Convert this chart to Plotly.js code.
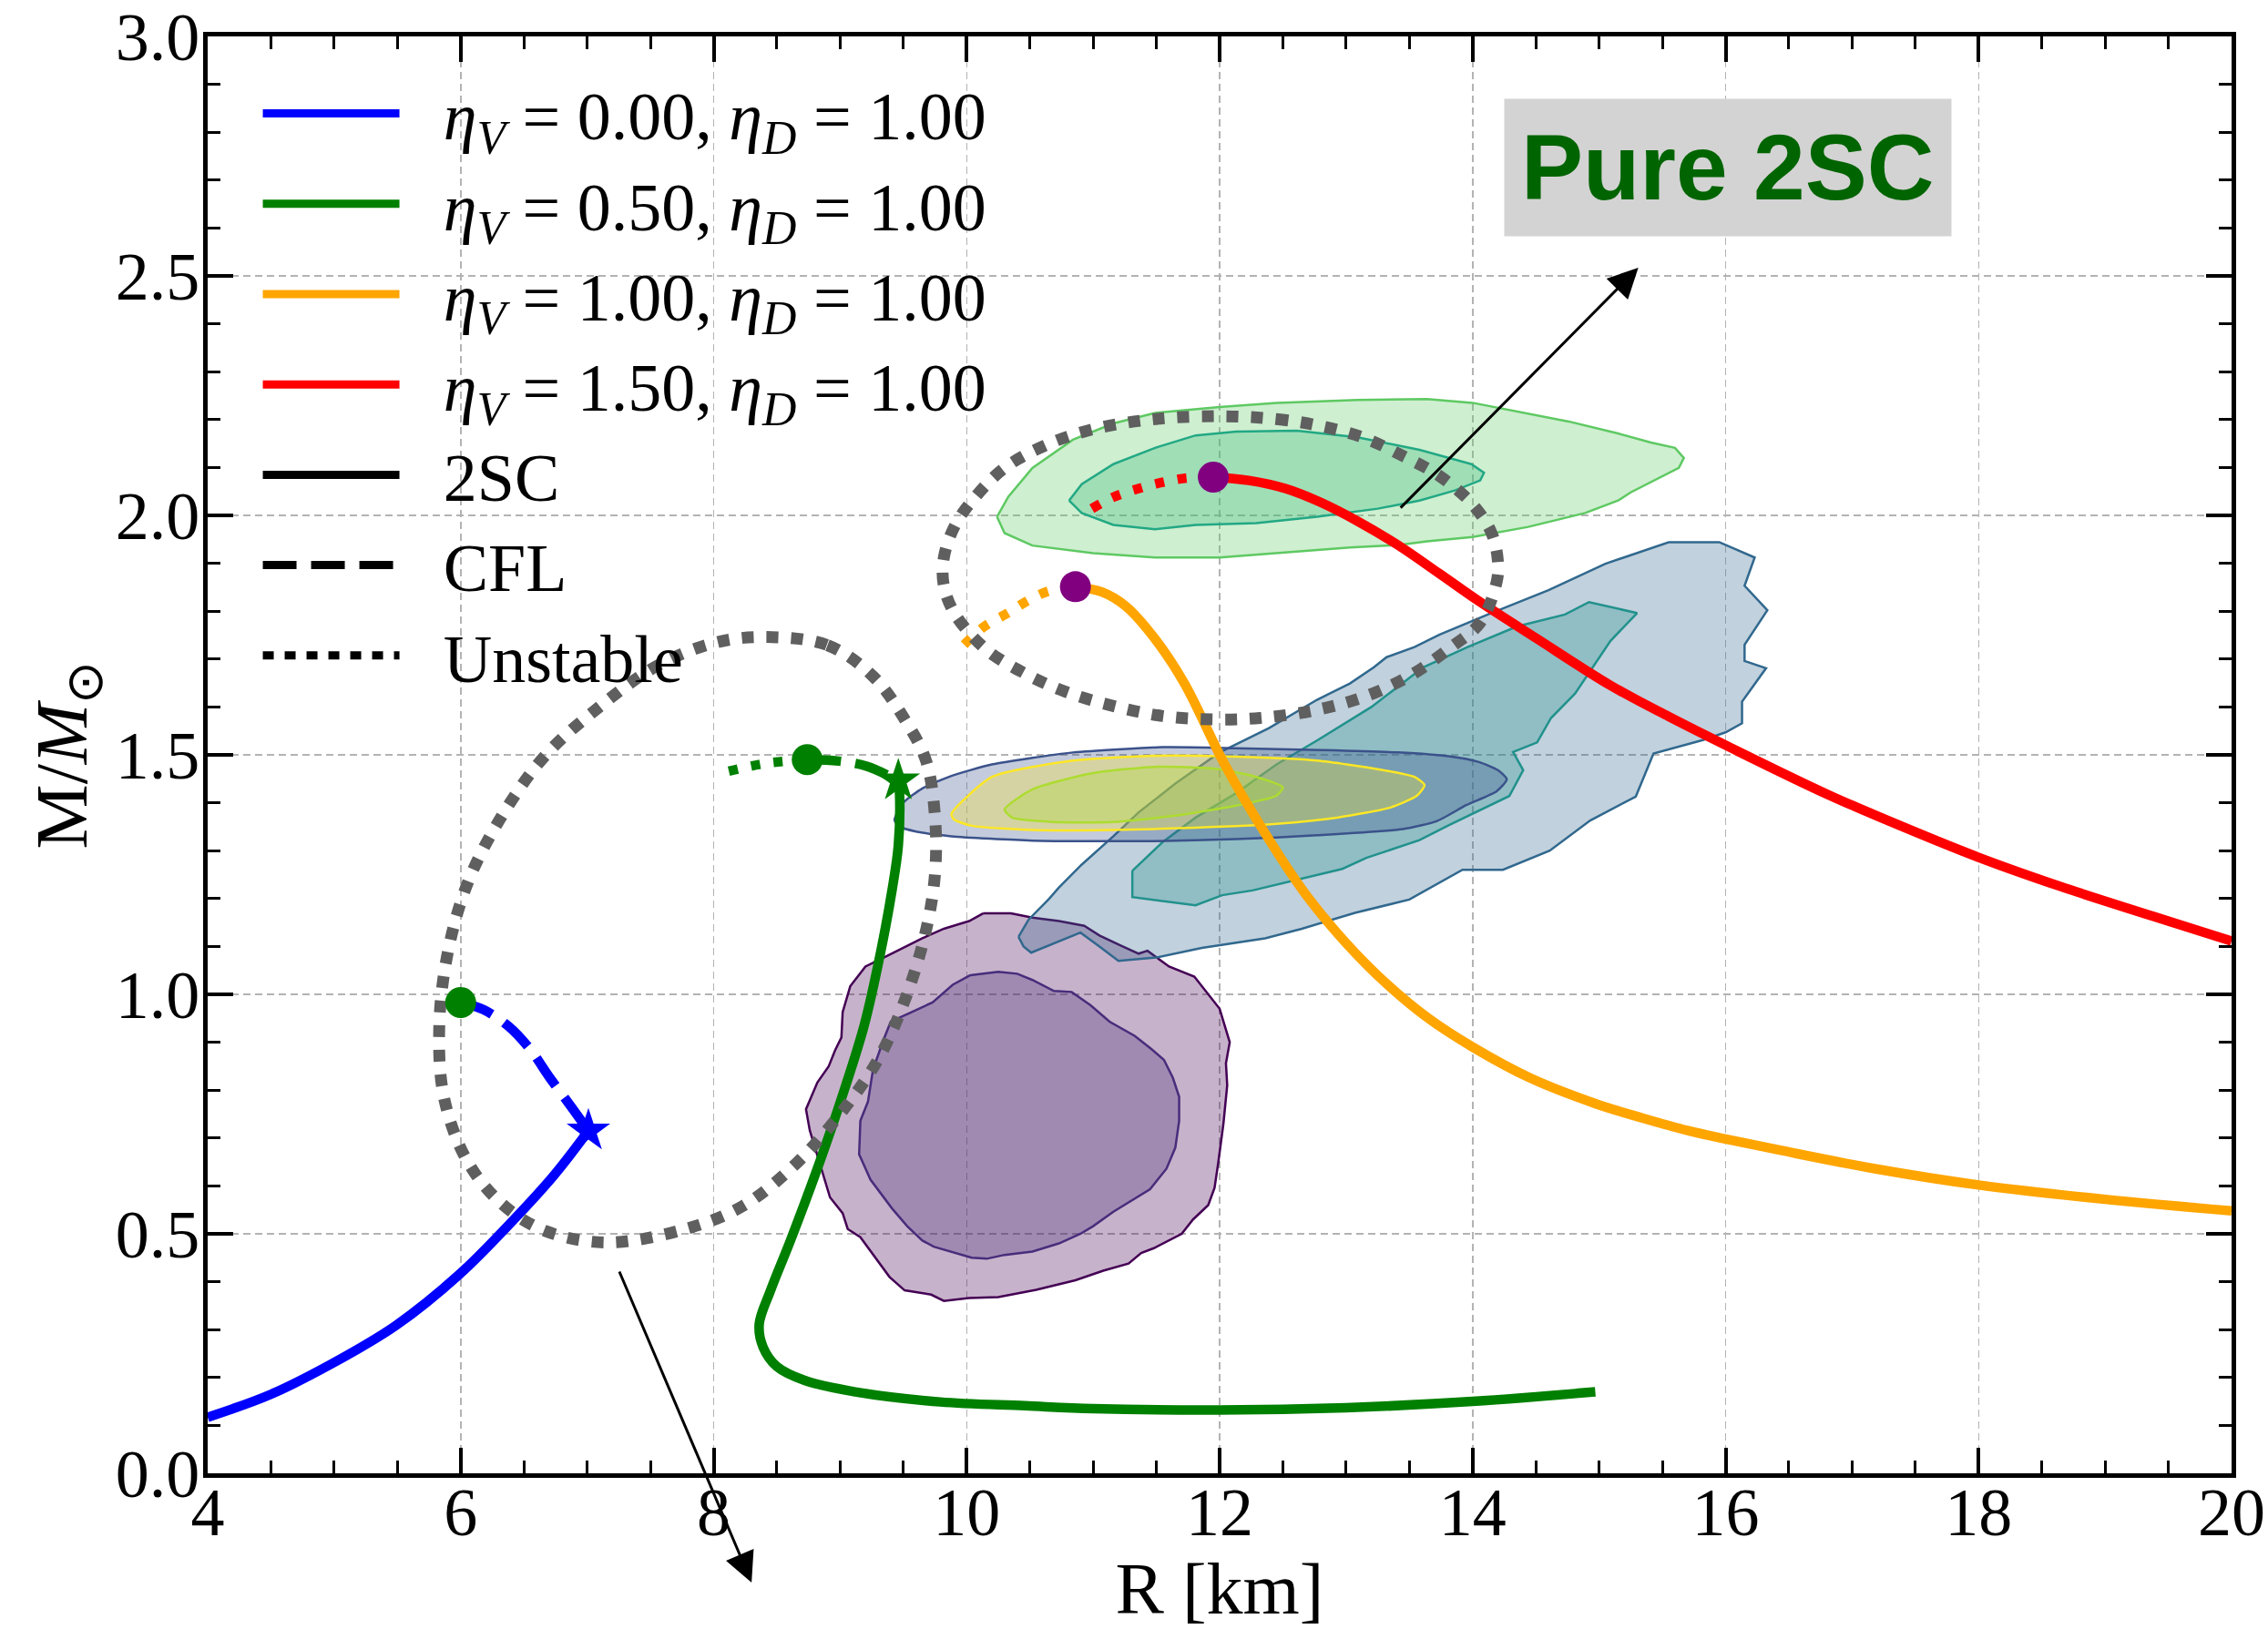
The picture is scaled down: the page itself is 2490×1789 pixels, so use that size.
<!DOCTYPE html>
<html>
<head>
<meta charset="utf-8">
<script src="https://cdn.plot.ly/plotly-3.0.1.min.js"></script>
<style>html,body{margin:0;padding:0;background:#fff;}#chart{width:2490px;height:1789px;}</style>
</head>
<body>
<div id="chart"></div>
<script>
// ---------- curves (R in km, M in solar masses) ----------
const blueSolidR = [4.0, 4.5, 4.99, 5.49, 5.98, 6.41, 6.74, 7.01];
const blueSolidM = [0.117, 0.165, 0.230, 0.309, 0.413, 0.527, 0.623, 0.715];
const blueDashR = [6.0, 6.18, 6.38, 6.55, 6.71, 6.88, 7.01];
const blueDashM = [0.983, 0.968, 0.933, 0.885, 0.824, 0.763, 0.715];

const greenDotR = [8.12, 8.41, 8.74];
const greenDotM = [1.466, 1.482, 1.490];
const greenDashR = [8.74, 8.99, 9.21, 9.46];
const greenDashM = [1.490, 1.487, 1.476, 1.446];
const greenSolidR = [9.46, 9.47, 9.46, 9.41, 9.32, 9.19, 9.01, 8.81, 8.61, 8.45, 8.36, 8.39, 8.50, 8.72, 9.12, 9.79, 10.46, 11.0, 12.0, 13.0, 14.0, 14.97];
const greenSolidM = [1.446, 1.417, 1.311, 1.217, 1.088, 0.935, 0.782, 0.629, 0.488, 0.382, 0.311, 0.264, 0.223, 0.194, 0.170, 0.149, 0.141, 0.135, 0.132, 0.137, 0.150, 0.170];

const orangeDotR = [9.98, 10.14, 10.33, 10.49, 10.65, 10.86];
const orangeDotM = [1.730, 1.768, 1.797, 1.823, 1.842, 1.851];
const orangeSolidR = [10.86, 11.07, 11.26, 11.49, 11.72, 12.04, 12.36, 12.68, 13.0, 13.32, 13.65, 14.0, 14.45, 14.97, 15.34, 15.71, 16.0, 16.44, 17.18, 18.0, 19.0, 20.0];
const orangeSolidM = [1.851, 1.840, 1.810, 1.742, 1.650, 1.480, 1.336, 1.209, 1.107, 1.022, 0.950, 0.890, 0.826, 0.772, 0.742, 0.715, 0.698, 0.674, 0.636, 0.602, 0.572, 0.548];

const redDotR = [10.99, 11.16, 11.36, 11.55, 11.74, 11.95];
const redDotM = [2.014, 2.038, 2.056, 2.069, 2.078, 2.080];
const redSolidR = [11.95, 12.23, 12.52, 12.80, 13.09, 13.41, 13.74, 14.06, 14.50, 15.09, 15.55, 16.04, 16.81, 17.40, 18.0, 18.65, 19.38, 20.0];
const redSolidM = [2.080, 2.073, 2.056, 2.027, 1.988, 1.938, 1.878, 1.819, 1.744, 1.645, 1.580, 1.515, 1.417, 1.350, 1.286, 1.225, 1.163, 1.111];

// ---------- special points ----------
const greenPointR = [6.0, 8.74];
const greenPointM = [0.983, 1.490];
const purplePointR = [10.86, 11.95];
const purplePointM = [1.851, 2.080];
const blueStarR = [7.01];
const blueStarM = [0.715];
const greenStarR = [9.46];
const greenStarM = [1.446];

// ---------- unstable regions (dotted outlines) ----------
const ring1R = [8.39, 8.90, 9.26, 9.52, 9.68, 9.75, 9.75, 9.68, 9.52, 9.30, 8.99, 8.63, 8.23, 7.79, 7.16, 6.67, 6.32, 6.05, 5.87, 5.83, 5.89, 6.05, 6.32, 6.67, 7.12, 7.56, 8.01, 8.39];
const ring1M = [1.746, 1.729, 1.664, 1.570, 1.487, 1.370, 1.252, 1.135, 0.994, 0.864, 0.747, 0.641, 0.558, 0.511, 0.482, 0.506, 0.564, 0.653, 0.782, 0.923, 1.076, 1.229, 1.370, 1.499, 1.605, 1.687, 1.734, 1.746];
const ring2R = [12.0, 12.45, 12.77, 13.13, 13.45, 13.74, 14.0, 14.15, 14.20, 14.19, 14.06, 13.83, 13.51, 13.16, 12.77, 12.32, 11.94, 11.55, 11.16, 10.78, 10.46, 10.15, 9.91, 9.82, 9.82, 9.91, 10.07, 10.30, 10.62, 11.0, 11.49, 12.0];
const ring2M = [2.207, 2.201, 2.188, 2.163, 2.124, 2.082, 2.023, 1.963, 1.904, 1.861, 1.776, 1.725, 1.666, 1.623, 1.594, 1.577, 1.574, 1.581, 1.602, 1.632, 1.670, 1.721, 1.793, 1.853, 1.912, 1.980, 2.039, 2.099, 2.146, 2.180, 2.201, 2.207];

// ---------- observational contours ----------
const purpleOuterR = [10.13, 10.35, 10.52, 10.73, 10.93, 11.05, 11.21, 11.36, 11.43, 11.60, 11.80, 11.91, 12.00, 12.08, 12.05, 12.06, 12.03, 11.99, 11.96, 11.91, 11.79, 11.70, 11.48, 11.38, 11.28, 11.08, 10.86, 10.55, 10.25, 10.02, 9.82, 9.72, 9.51, 9.39, 9.29, 9.16, 9.06, 9.02, 8.92, 8.86, 8.81, 8.76, 8.73, 8.82, 8.91, 8.96, 9.01, 9.02, 9.08, 9.20, 9.37, 9.54, 9.65, 9.82, 10.02, 10.13];
const purpleOuterM = [1.169, 1.169, 1.160, 1.153, 1.143, 1.123, 1.103, 1.085, 1.091, 1.058, 1.037, 1.000, 0.970, 0.900, 0.856, 0.810, 0.730, 0.650, 0.596, 0.560, 0.530, 0.500, 0.470, 0.460, 0.438, 0.423, 0.403, 0.383, 0.368, 0.366, 0.360, 0.373, 0.382, 0.410, 0.446, 0.493, 0.510, 0.543, 0.576, 0.630, 0.676, 0.716, 0.760, 0.816, 0.850, 0.883, 0.910, 0.963, 1.017, 1.058, 1.080, 1.103, 1.117, 1.137, 1.153, 1.169];
const purpleInnerR = [10.03, 10.25, 10.40, 10.52, 10.69, 10.83, 10.98, 11.13, 11.33, 11.46, 11.56, 11.63, 11.68, 11.68, 11.65, 11.58, 11.45, 11.16, 11.00, 10.90, 10.73, 10.52, 10.30, 10.16, 10.04, 9.74, 9.65, 9.53, 9.41, 9.24, 9.15, 9.16, 9.22, 9.26, 9.34, 9.40, 9.54, 9.73, 9.89, 10.03];
const purpleInnerM = [1.040, 1.047, 1.043, 1.030, 1.007, 1.005, 0.977, 0.943, 0.913, 0.886, 0.863, 0.826, 0.786, 0.736, 0.680, 0.636, 0.593, 0.546, 0.516, 0.500, 0.480, 0.463, 0.456, 0.448, 0.450, 0.473, 0.486, 0.516, 0.553, 0.613, 0.666, 0.736, 0.776, 0.843, 0.903, 0.943, 0.960, 0.983, 1.020, 1.040];

const steelOuterR = [10.41, 10.45, 10.51, 10.68, 10.80, 10.90, 11.05, 11.20, 11.50, 11.86, 12.36, 12.65, 13.07, 13.50, 13.92, 14.24, 14.61, 14.93, 15.29, 15.43, 15.82, 16.00, 16.13, 16.13, 16.32, 16.15, 16.15, 16.33, 16.15, 16.23, 15.95, 15.55, 15.05, 14.60, 14.12, 13.74, 13.54, 13.32, 13.22, 13.03, 12.77, 12.39, 12.00, 11.65, 11.36, 11.16, 10.91, 10.73, 10.65, 10.49, 10.41];
const steelOuterM = [1.120, 1.100, 1.087, 1.105, 1.117, 1.129, 1.100, 1.070, 1.077, 1.097, 1.117, 1.137, 1.170, 1.198, 1.260, 1.260, 1.300, 1.363, 1.413, 1.503, 1.531, 1.547, 1.566, 1.611, 1.681, 1.696, 1.730, 1.802, 1.853, 1.912, 1.944, 1.944, 1.899, 1.844, 1.793, 1.751, 1.725, 1.704, 1.683, 1.649, 1.615, 1.556, 1.505, 1.440, 1.380, 1.330, 1.271, 1.223, 1.199, 1.156, 1.120];
const steelInnerR = [11.31, 11.31, 11.81, 12.02, 12.26, 12.97, 13.16, 13.58, 13.81, 14.29, 14.40, 14.32, 14.51, 14.62, 14.81, 15.09, 15.30, 14.92, 14.73, 14.35, 13.96, 13.61, 13.20, 12.77, 12.45, 12.13, 11.81, 11.55, 11.31];
const steelInnerM = [1.258, 1.203, 1.186, 1.207, 1.217, 1.262, 1.285, 1.322, 1.353, 1.414, 1.468, 1.506, 1.526, 1.577, 1.628, 1.738, 1.796, 1.819, 1.793, 1.768, 1.725, 1.683, 1.600, 1.530, 1.480, 1.420, 1.369, 1.318, 1.258];

const gwOuterR = [9.43, 9.50, 9.65, 9.88, 10.20, 10.84, 11.55, 12.13, 12.80, 13.41, 13.81, 14.05, 14.20, 14.27, 14.19, 13.95, 13.72, 13.45, 12.77, 12.13, 11.49, 10.52, 9.88, 9.60, 9.47, 9.43];
const gwOuterM = [1.364, 1.400, 1.430, 1.456, 1.480, 1.505, 1.516, 1.514, 1.510, 1.505, 1.497, 1.485, 1.468, 1.449, 1.424, 1.395, 1.362, 1.345, 1.332, 1.324, 1.320, 1.321, 1.330, 1.340, 1.350, 1.364];
const gwMidR = [9.88, 10.20, 10.84, 11.49, 12.13, 12.77, 13.25, 13.54, 13.62, 13.56, 13.35, 12.93, 12.45, 11.81, 11.16, 10.52, 10.04, 9.90, 9.88];
const gwMidM = [1.377, 1.454, 1.488, 1.498, 1.496, 1.488, 1.470, 1.454, 1.437, 1.415, 1.390, 1.369, 1.356, 1.348, 1.343, 1.343, 1.352, 1.365, 1.377];
const gwInnerR = [10.30, 10.52, 11.00, 11.49, 11.97, 12.29, 12.50, 12.45, 12.13, 11.65, 11.16, 10.68, 10.36, 10.30];
const gwInnerM = [1.386, 1.428, 1.462, 1.475, 1.471, 1.454, 1.432, 1.415, 1.394, 1.373, 1.360, 1.360, 1.369, 1.386];

const j0740OuterR = [10.24, 10.33, 10.52, 10.84, 11.16, 11.49, 12.00, 12.45, 13.09, 13.64, 14.00, 14.44, 14.76, 15.15, 15.41, 15.60, 15.67, 15.63, 15.47, 15.25, 15.15, 14.89, 14.44, 14.00, 13.64, 13.42, 13.03, 12.45, 12.00, 11.49, 11.00, 10.52, 10.30, 10.24];
const j0740OuterM = [1.997, 2.039, 2.099, 2.158, 2.192, 2.214, 2.226, 2.235, 2.241, 2.243, 2.235, 2.213, 2.196, 2.171, 2.152, 2.141, 2.120, 2.099, 2.078, 2.048, 2.031, 2.005, 1.976, 1.955, 1.946, 1.938, 1.933, 1.921, 1.912, 1.912, 1.921, 1.937, 1.963, 1.997];
const j0740InnerR = [10.81, 10.91, 11.16, 11.49, 11.81, 12.13, 12.61, 13.09, 13.58, 13.99, 14.09, 14.06, 13.86, 13.58, 13.25, 12.77, 12.29, 11.81, 11.49, 11.16, 10.91, 10.81];
const j0740InnerM = [2.031, 2.065, 2.107, 2.141, 2.167, 2.175, 2.177, 2.163, 2.137, 2.107, 2.089, 2.073, 2.052, 2.031, 2.014, 1.997, 1.984, 1.980, 1.971, 1.980, 2.005, 2.031];

// ---------- legend labels ----------
const PAD = '\u00a0\u00a0\u200a';
const legendLabels = [
  PAD + '<i>η</i><sub><i>V</i></sub> = 0.00, <i>η</i><sub><i>D</i></sub> = 1.00',
  PAD + '<i>η</i><sub><i>V</i></sub> = 0.50, <i>η</i><sub><i>D</i></sub> = 1.00',
  PAD + '<i>η</i><sub><i>V</i></sub> = 1.00, <i>η</i><sub><i>D</i></sub> = 1.00',
  PAD + '<i>η</i><sub><i>V</i></sub> = 1.50, <i>η</i><sub><i>D</i></sub> = 1.00',
  PAD + '2SC', PAD + 'CFL', PAD + 'Unstable'
];

const BLUE = '#0000ff', GREEN = '#008000', ORANGE = '#ffa500', RED = '#ff0000', PURPLE = '#800080';
const LW = 10.5;
const DASH = '37px,16px';
const DOT = '10px,15px';

function poly(R, M, line, fill, shape) {
  return {x: R, y: M, type: 'scatter', mode: 'lines', fill: 'toself', fillcolor: fill,
    line: {color: line, width: 2.5, shape: shape || 'linear', smoothing: 0.6}, showlegend: false, hoverinfo: 'skip'};
}
function curve(R, M, color, dash) {
  return {x: R, y: M, type: 'scatter', mode: 'lines',
    line: {color: color, width: LW, dash: dash || 'solid', shape: 'spline', smoothing: 1}, showlegend: false, hoverinfo: 'skip'};
}
function pts(R, M, color, symbol, size) {
  return {x: R, y: M, type: 'scatter', mode: 'markers', cliponaxis: false,
    marker: {color: color, symbol: symbol, size: size, line: {width: 0}}, showlegend: false, hoverinfo: 'skip'};
}
function leg(name, color, dash) {
  return {x: [null], y: [null], type: 'scatter', mode: 'lines', name: name,
    line: {color: color, width: 9, dash: dash || 'solid'}, showlegend: true};
}
function ring(R, M) {
  return {x: R, y: M, type: 'scatter', mode: 'lines',
    line: {color: '#5f5f5f', width: 13, dash: '13px,14px', shape: 'spline', smoothing: 1}, showlegend: false, hoverinfo: 'skip'};
}

const traces = [
  poly(purpleOuterR, purpleOuterM, '#440154', 'rgba(68,1,84,0.3)'),
  poly(purpleInnerR, purpleInnerM, '#472d7b', 'rgba(71,45,123,0.3)'),
  poly(steelOuterR, steelOuterM, '#31688e', 'rgba(49,104,142,0.3)'),
  poly(steelInnerR, steelInnerM, '#21918c', 'rgba(33,145,140,0.3)'),
  poly(gwOuterR, gwOuterM, '#3b528b', 'rgba(59,82,139,0.3)', 'spline'),
  poly(gwMidR, gwMidM, '#fde725', 'rgba(253,231,37,0.3)', 'spline'),
  poly(gwInnerR, gwInnerM, '#addc30', 'rgba(173,220,48,0.3)', 'spline'),
  poly(j0740OuterR, j0740OuterM, '#5ec962', 'rgba(94,201,98,0.3)'),
  poly(j0740InnerR, j0740InnerM, '#22a884', 'rgba(53,183,121,0.3)'),

  curve(blueSolidR, blueSolidM, BLUE),
  curve(blueDashR, blueDashM, BLUE, DASH),
  curve(greenSolidR, greenSolidM, GREEN),
  curve(greenDashR, greenDashM, GREEN, DASH),
  curve(greenDotR, greenDotM, GREEN, DOT),
  curve(orangeSolidR, orangeSolidM, ORANGE),
  curve(orangeDotR, orangeDotM, ORANGE, DOT),
  curve(redSolidR, redSolidM, RED),
  curve(redDotR, redDotM, RED, DOT),

  ring(ring1R, ring1M),
  ring(ring2R, ring2M),

  pts(blueStarR, blueStarM, BLUE, 'star', 36),
  pts(greenStarR, greenStarM, GREEN, 'star', 36),
  pts(greenPointR, greenPointM, GREEN, 'circle', 34),
  pts(purplePointR, purplePointM, PURPLE, 'circle', 34),

  leg(legendLabels[0], BLUE),
  leg(legendLabels[1], GREEN),
  leg(legendLabels[2], ORANGE),
  leg(legendLabels[3], RED),
  leg(legendLabels[4], 'black'),
  leg(legendLabels[5], 'black', DASH),
  leg(legendLabels[6], 'black', '12px,12px')
];

const SERIF = 'Liberation Serif, Times New Roman, serif';
const axisCommon = {
  showline: true, linecolor: 'black', linewidth: 5, mirror: 'allticks',
  ticks: 'inside', ticklen: 28, tickwidth: 4, tickcolor: 'black',
  showgrid: true, gridcolor: '#b3b3b3', gridwidth: 1.5, griddash: '8px,5px',
  zeroline: false, tickfont: {family: SERIF, size: 74, color: 'black'},
  ticklabeloverflow: 'allow', fixedrange: true
};

const layout = {
  width: 2490, height: 1789,
  margin: {l: 228, r: 40, t: 40, b: 171},
  paper_bgcolor: 'white', plot_bgcolor: 'white',
  showlegend: true,
  legend: {x: 0.025, y: 0.981, xanchor: 'left', yanchor: 'top', bgcolor: 'rgba(0,0,0,0)',
    font: {family: SERIF, size: 74, color: 'black'}, itemwidth: 150, tracegroupgap: 0},
  xaxis: Object.assign({}, axisCommon, {
    range: [4, 20], tick0: 4, dtick: 2, ticklabelstandoff: -26,
    minor: {dtick: 0.5, ticks: 'inside', ticklen: 14, tickwidth: 3, tickcolor: 'black', showgrid: false},
    title: {text: 'R [km]', font: {family: SERIF, size: 80, color: 'black'}}
  }),
  yaxis: Object.assign({}, axisCommon, {
    range: [0, 3], tick0: 0, dtick: 0.5, tickformat: '.1f', ticklabelstandoff: -11,
    automargin: 'left',
    minor: {dtick: 0.1, ticks: 'inside', ticklen: 14, tickwidth: 3, tickcolor: 'black', showgrid: false},
    title: {text: 'M/<i>M</i><sub>⊙</sub>', font: {family: SERIF, size: 80, color: 'black'}, standoff: 6}
  }),
  annotations: [
    {x: 16.02, y: 2.726, xref: 'x', yref: 'y', showarrow: false,
      text: '<b>Pure 2SC</b>', bgcolor: '#d3d3d3', borderpad: 18,
      font: {family: 'Liberation Sans, Arial, sans-serif', size: 102, color: '#006400'}},
    {x: 15.31, y: 2.517, ax: 13.42, ay: 2.013, xref: 'x', yref: 'y', axref: 'x', ayref: 'y',
      text: '', showarrow: true, arrowhead: 2, arrowsize: 2.2, arrowwidth: 3, arrowcolor: 'black'},
    {x: 8.30, y: -0.228, ax: 7.25, ay: 0.424, xref: 'x', yref: 'y', axref: 'x', ayref: 'y',
      text: '', showarrow: true, arrowhead: 2, arrowsize: 2.2, arrowwidth: 3, arrowcolor: 'black'}
  ]
};

Plotly.newPlot('chart', traces, layout, {displayModeBar: false, staticPlot: true});
</script>
</body>
</html>
